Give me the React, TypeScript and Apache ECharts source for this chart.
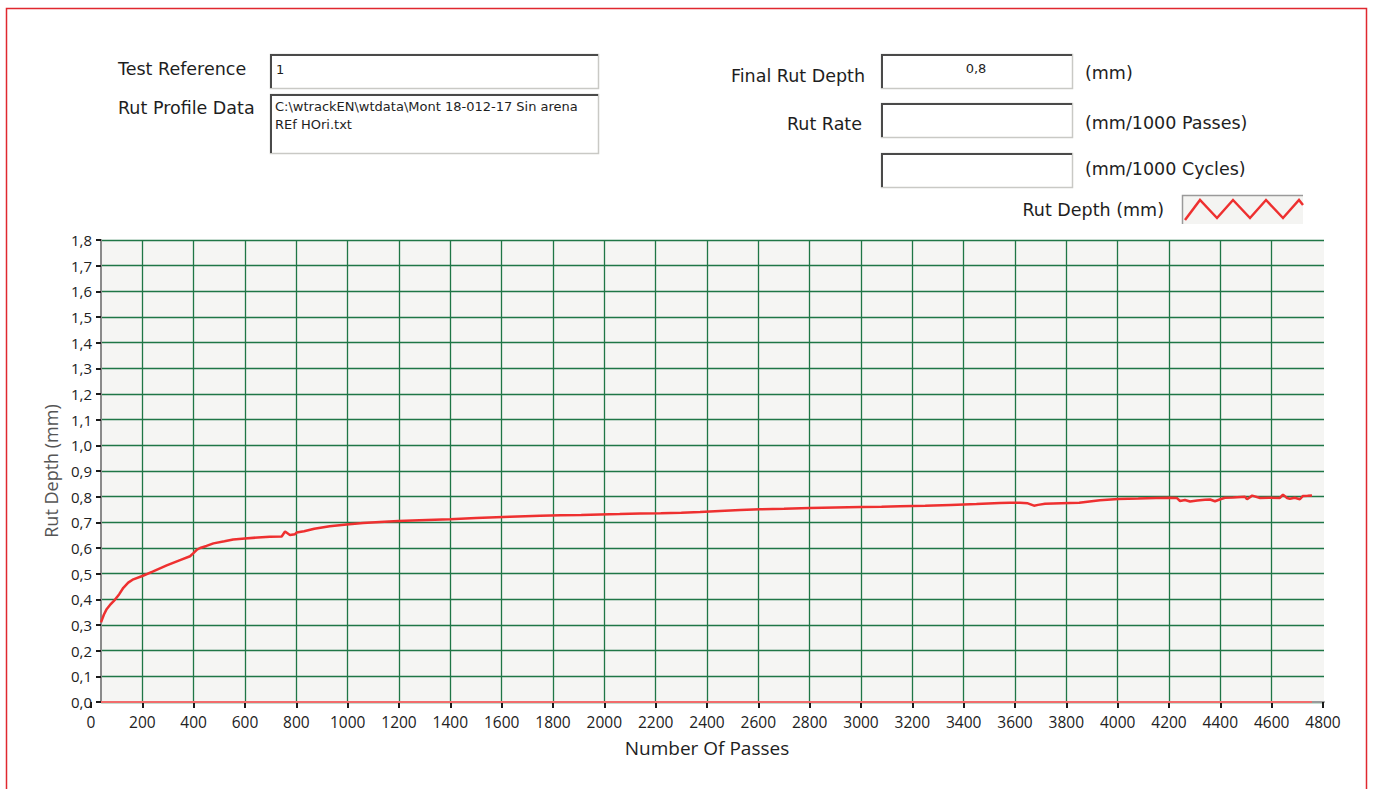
import React, { useEffect, useRef } from "react";
import * as echarts from "echarts";

// ---- data ----
const passes: number[] = [
  39, 50, 60, 74, 93, 110, 126, 145, 165, 200, 240, 295, 347, 386, 399, 413, 425, 450, 477, 520,
  554, 600, 650, 697, 743, 756, 775, 795, 801, 830, 870, 930, 996, 1060, 1126, 1197, 1280, 1399,
  1500, 1632, 1750, 1830, 1910, 1983, 2060, 2140, 2220, 2300, 2373, 2450, 2530, 2606, 2700, 2801,
  2900, 3000, 3080, 3152, 3250, 3350, 3450, 3541, 3580, 3619, 3650, 3674, 3690, 3717, 3780, 3850,
  3931, 4001, 4080, 4150, 4204, 4230, 4243, 4262, 4282, 4310, 4340, 4360, 4379, 4400, 4418, 4450,
  4496, 4504, 4524, 4555, 4590, 4632, 4644, 4660, 4671, 4690, 4710, 4722, 4740, 4757,
];
const rutDepth: number[] = [
  0.31, 0.34, 0.36, 0.378, 0.398, 0.42, 0.445, 0.465, 0.478, 0.491, 0.508, 0.532, 0.553, 0.568,
  0.58, 0.594, 0.6, 0.608, 0.618, 0.626, 0.633, 0.637, 0.641, 0.644, 0.645, 0.664, 0.651, 0.654,
  0.66, 0.665, 0.675, 0.685, 0.692, 0.697, 0.701, 0.705, 0.708, 0.712, 0.717, 0.722, 0.726, 0.728,
  0.729, 0.731, 0.732, 0.734, 0.735, 0.737, 0.74, 0.744, 0.748, 0.751, 0.753, 0.756, 0.758, 0.76,
  0.761, 0.763, 0.765, 0.768, 0.771, 0.775, 0.776, 0.776, 0.774, 0.765, 0.768, 0.772, 0.774, 0.776,
  0.786, 0.791, 0.793, 0.795, 0.796, 0.795, 0.783, 0.787, 0.781, 0.785, 0.788, 0.789, 0.782, 0.79,
  0.796, 0.797, 0.8, 0.79, 0.804, 0.795, 0.796, 0.795, 0.808, 0.795, 0.792, 0.796, 0.79, 0.803,
  0.804, 0.805,
];
const baselinePasses: number[] = [39, 4757];
const baselineDepth: number[] = [0, 0];

const xMin = 0;
const xMax = 4800;
const xStep = 200;
const yMin = 0;
const yMax = 1.8;
const yStep = 0.1;

const testReference = "1";
const profileLine1 = "C:\\wtrackEN\\wtdata\\Mont 18-012-17 Sin arena";
const profileLine2 = "REf HOri.txt";
const finalRutDepth = "0,8";

const LABEL_FONT = '"DejaVu Sans", sans-serif';
const TICK_FONT = '"Open Sans", "Noto Sans", sans-serif';
const GRID_GREEN = "#1f7646";

function box(x: number, y: number, w: number, h: number, fill = "#ffffff") {
  return {
    type: "group",
    children: [
      {
        type: "rect",
        shape: { x: x + 0.5, y: y + 0.5, width: w, height: h },
        style: { fill, stroke: "#c9c9c5", lineWidth: 1.5 },
      },
      {
        type: "polyline",
        shape: { points: [[x + 1, y + h], [x + 1, y + 1], [x + w, y + 1]] },
        style: { stroke: "#4a4a4a", lineWidth: 2, fill: "none" },
      },
    ],
  };
}

function label(text: string, x: number, y: number, align: string, size = 17, family = LABEL_FONT, color = "#1e1e1e") {
  return {
    type: "text",
    x,
    y,
    style: {
      text,
      fill: color,
      fontSize: size,
      fontFamily: family,
      align,
      verticalAlign: "middle",
    },
  };
}

export default function App() {
  const ref = useRef<HTMLDivElement>(null);

  useEffect(() => {
    if (!ref.current) return;
    const chart = echarts.init(ref.current, undefined, { renderer: "svg" });
    const fmtY = (v: number) => v.toFixed(1).replace(".", ",");
    const fmtX = (v: number) => String(Math.round(v));

    const option: any = {
      animation: false,
      backgroundColor: "#ffffff",
      grid: [
        { left: 101, right: 49, top: 240, bottom: 87, show: true, backgroundColor: "#f5f5f3", borderWidth: 0 },
        { left: 91, right: 50, top: 240, bottom: 87, show: false },
      ],
      xAxis: [
        {
          gridIndex: 0,
          type: "value",
          min: 0,
          max: 1,
          position: "top",
          offset: 3,
          axisLine: { show: true, lineStyle: { color: "#9a9a9a", width: 2 } },
          axisTick: { show: false },
          axisLabel: { show: false },
          splitLine: { show: false },
        },
        {
          gridIndex: 1,
          type: "value",
          min: xMin,
          max: xMax,
          interval: xStep,
          position: "bottom",
          axisLine: { show: false },
          axisTick: { show: true, length: 6, lineStyle: { color: "#1a1a1a", width: 2 } },
          axisLabel: { show: true, fontSize: 15.5, color: "#222", fontFamily: TICK_FONT, margin: 12, formatter: fmtX },
          splitLine: { show: true, showMinLine: false, showMaxLine: false, lineStyle: { color: GRID_GREEN, width: 1.3 } },
          name: "Number Of Passes",
          nameLocation: "middle",
          nameGap: 36,
          nameTextStyle: { fontSize: 19, color: "#1e1e1e", fontFamily: TICK_FONT },
        },
      ],
      yAxis: [
        {
          gridIndex: 0,
          type: "value",
          min: yMin,
          max: yMax,
          interval: yStep,
          axisLine: { show: true, lineStyle: { color: "#8a8a8a", width: 2 } },
          axisTick: { show: true, length: 5, lineStyle: { color: "#1a1a1a", width: 2 } },
          axisLabel: { show: true, fontSize: 15, color: "#222", fontFamily: TICK_FONT, margin: 9, formatter: fmtY },
          splitLine: { show: true, lineStyle: { color: GRID_GREEN, width: 1.3 } },
          name: "Rut Depth (mm)",
          nameLocation: "middle",
          nameGap: 39,
          nameTextStyle: { fontSize: 18, color: "#555", fontFamily: TICK_FONT },
        },
        {
          gridIndex: 1,
          type: "value",
          min: yMin,
          max: yMax,
          show: false,
        },
      ],
      series: [
        {
          type: "line",
          xAxisIndex: 1,
          yAxisIndex: 1,
          data: baselinePasses.map((p, i) => [p, baselineDepth[i]]),
          showSymbol: false,
          lineStyle: { color: "#f26c6c", width: 1.8 },
          z: 3,
        },
        {
          type: "line",
          xAxisIndex: 1,
          yAxisIndex: 1,
          data: passes.map((p, i) => [p, rutDepth[i]]),
          showSymbol: false,
          lineStyle: { color: "#ee3030", width: 2.5 },
          z: 4,
        },
      ],
      graphic: [
        {
          type: "rect",
          shape: { x: 6.5, y: 8.5, width: 1360, height: 800 },
          style: { fill: "none", stroke: "#e0282f", lineWidth: 1.5 },
          silent: true,
        },
        label("Test Reference", 118, 69, "left", 17.5),
        label("Rut Profile Data", 118, 108, "left", 17.5),
        box(270, 54, 328, 34),
        box(270, 94, 328, 59),
        label(testReference, 276, 69, "left", 13),
        label(profileLine1, 275, 106, "left", 13),
        label(profileLine2, 275, 124, "left", 13),
        label("Final Rut Depth", 865, 76, "right", 17.5),
        label("Rut Rate", 862, 124, "right", 17.5),
        box(881, 54, 191, 34),
        box(881, 103, 191, 34),
        box(881, 153, 191, 34),
        label(finalRutDepth, 976, 68, "center", 13),
        label("(mm)", 1085, 73, "left", 17.5),
        label("(mm/1000 Passes)", 1085, 123, "left", 17.5),
        label("(mm/1000 Cycles)", 1085, 169, "left", 17.5),
        label("Rut Depth (mm)", 1164, 210, "right", 17.5),
        {
          type: "group",
          children: [
            {
              type: "rect",
              shape: { x: 1182, y: 195, width: 121, height: 29 },
              style: { fill: "#f4f4f2", stroke: "none" },
            },
            {
              type: "polyline",
              shape: { points: [[1182.5, 224], [1182.5, 195.5], [1303, 195.5]] },
              style: { stroke: "#9a9a9a", lineWidth: 1.5, fill: "none" },
            },
            {
              type: "polyline",
              shape: {
                points: [
                  [1185, 220], [1200, 200], [1217, 218], [1233, 200], [1250, 218],
                  [1266, 200], [1283, 218], [1299, 200], [1303, 205],
                ],
              },
              style: { stroke: "#ee3030", lineWidth: 2.5, fill: "none" },
            },
          ],
        },
      ],
    };

    chart.setOption(option);
    return () => chart.dispose();
  }, []);

  return (
    <div
      ref={ref}
      style={{ position: "fixed", left: 0, top: 0, width: 1373, height: 789, background: "#fff" }}
    />
  );
}
